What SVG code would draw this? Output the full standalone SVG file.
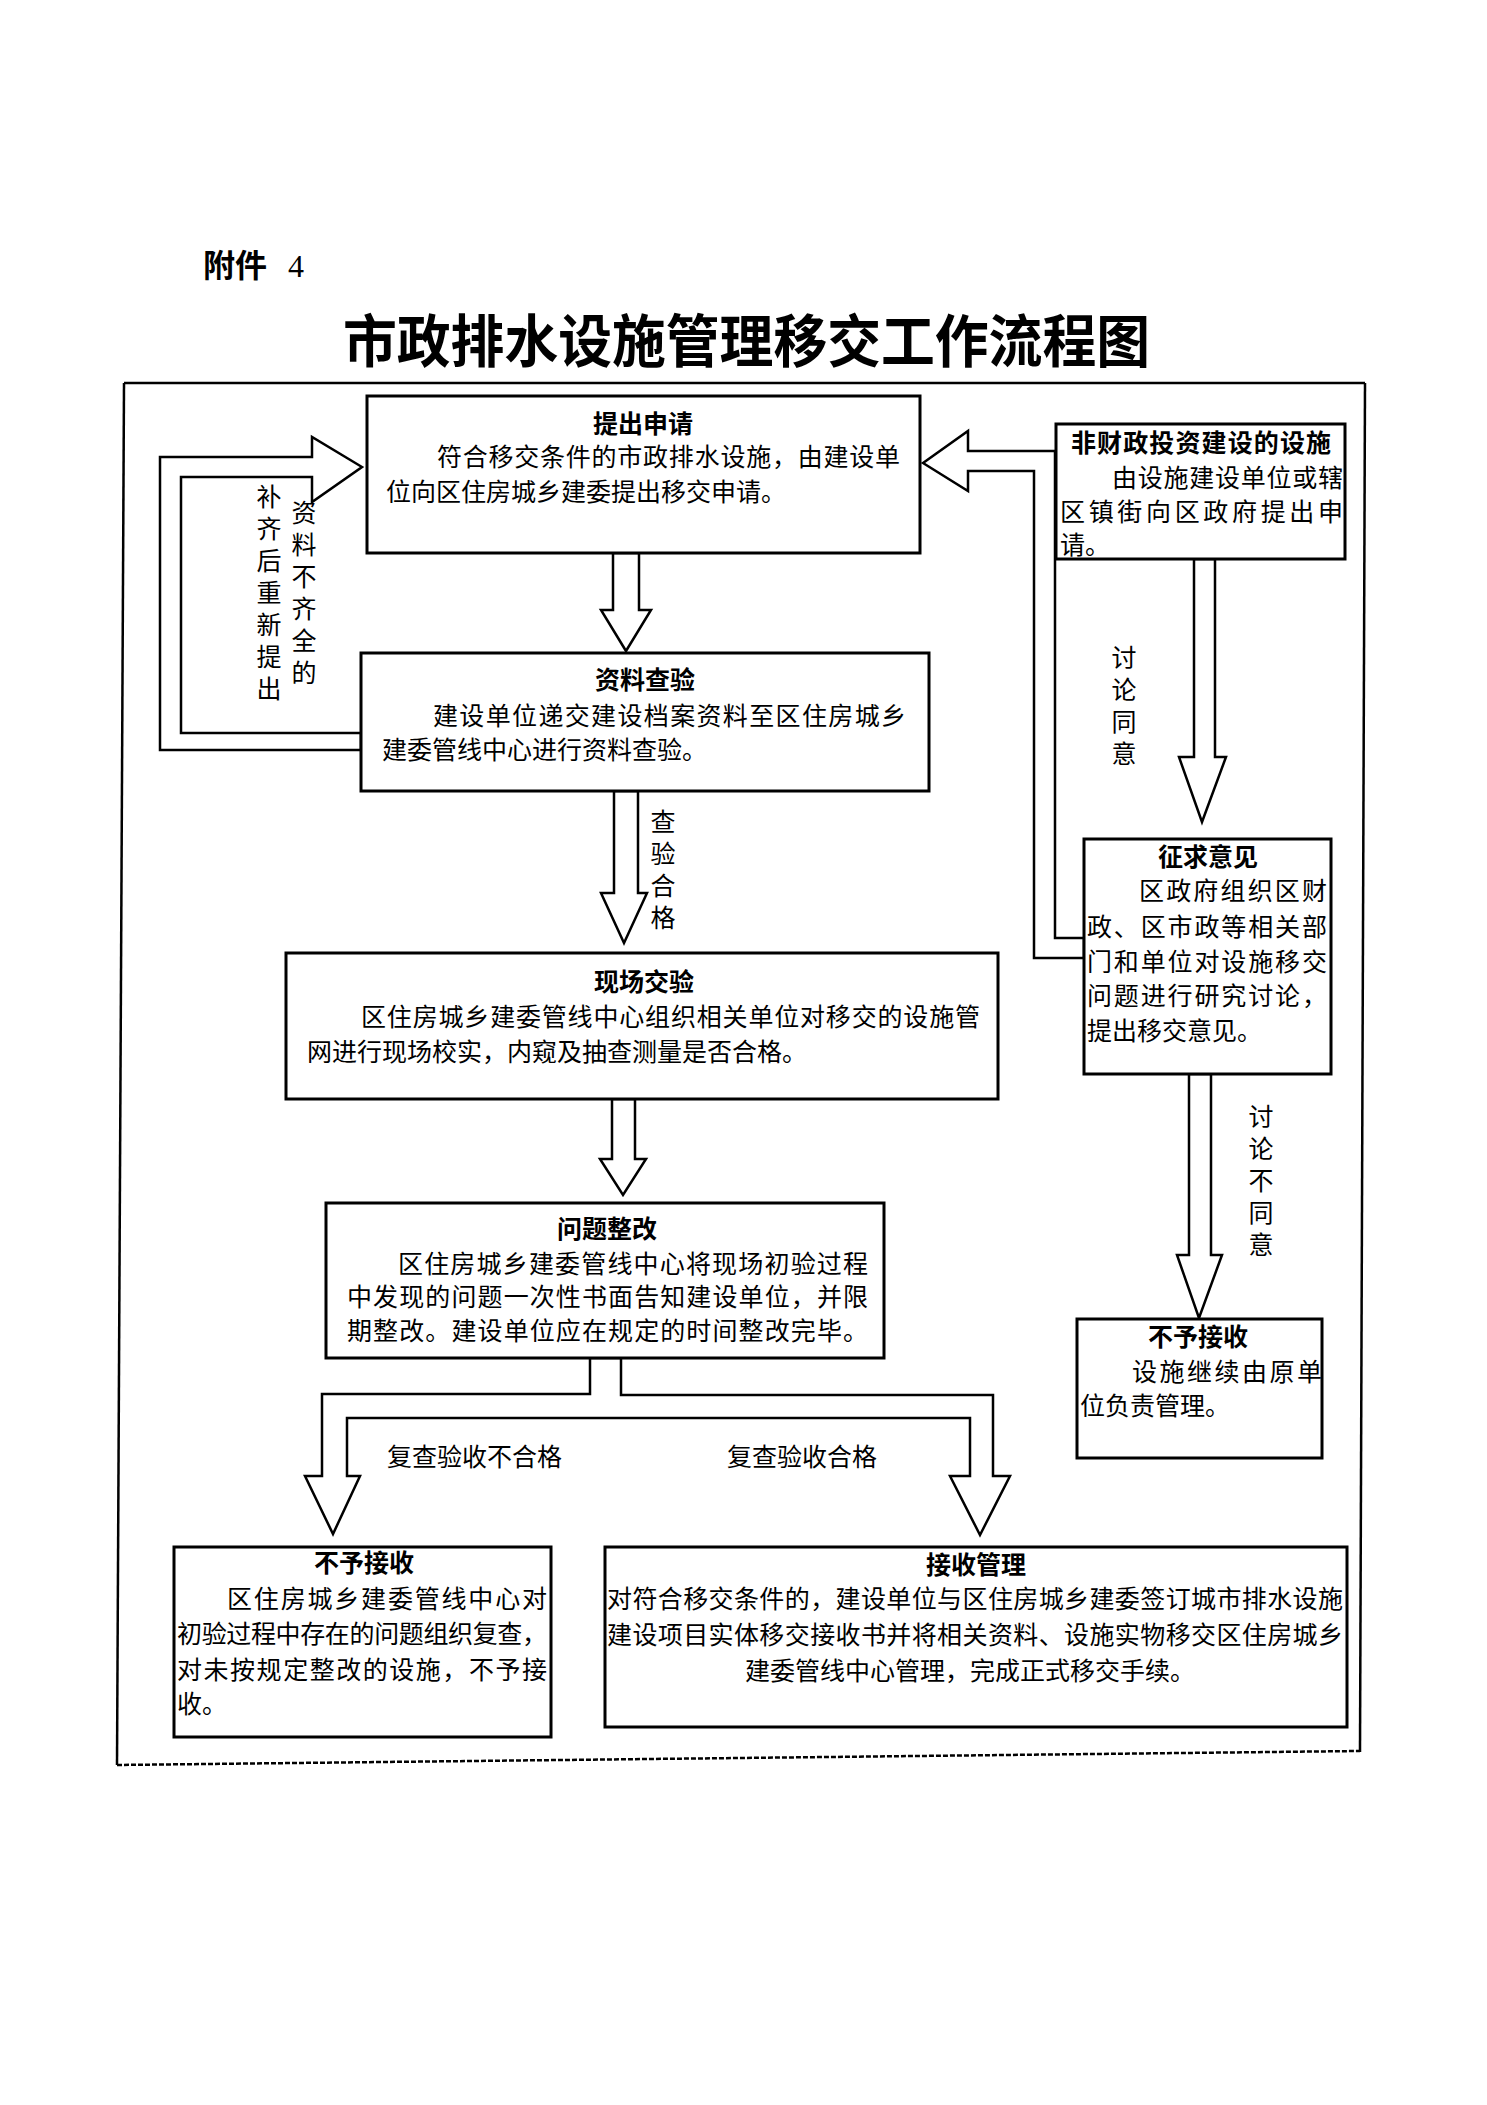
<svg xmlns="http://www.w3.org/2000/svg" width="1487" height="2105" viewBox="0 0 1487 2105">
<style>
  text { font-family: "Noto Sans CJK SC", "Noto Sans", sans-serif; fill: #000; }
  .t { font-size: 25px; font-weight: 700; text-anchor: middle; }
  .b { font-size: 25px; font-weight: 400; }
  .v { font-size: 25px; font-weight: 400; text-anchor: middle; }
  .box { fill: #fff; stroke: #000; stroke-width: 3; }
  .arr { fill: #fff; stroke: #000; stroke-width: 2.5; stroke-linejoin: miter; }
  .frame { fill: none; stroke: #000; stroke-width: 2.5; }
</style>
<rect x="0" y="0" width="1487" height="2105" fill="#fff"/>

<g id="header">
  <text x="203" y="277" style="font-size:32px;font-weight:700">附件<tspan x="288" style="font-family:'Liberation Serif',serif;font-weight:400">4</tspan></text>
  <text x="343" y="362" style="font-size:57px;font-weight:700" textLength="807" lengthAdjust="spacingAndGlyphs">市政排水设施管理移交工作流程图</text>
</g>

<g id="frame">
  <line class="frame" x1="124" y1="383" x2="1365" y2="383" stroke-width="3"/>
  <line class="frame" x1="124" y1="383" x2="117" y2="1765"/>
  <line class="frame" x1="1365" y1="383" x2="1360" y2="1752"/>
  <line class="frame" x1="117" y1="1765" x2="1360" y2="1751" stroke-width="5" stroke-dasharray="5 2"/>
</g>

<g id="connectors">
  <polygon class="arr" points="613,553 613,610 601,610 626,651 651,610 639,610 639,553"/>
  <polygon class="arr" points="614,791 614,893 601,893 624,943 647,893 638,893 638,791"/>
  <polygon class="arr" points="612,1099 612,1159 600,1159 623,1195 646,1159 635,1159 635,1099"/>
  <polygon class="arr" points="1194,559 1194,757 1179,757 1202,822 1226,757 1215,757 1215,559"/>
  <polygon class="arr" points="1189,1074 1189,1255 1177,1255 1199,1318 1222,1255 1211,1255 1211,1074"/>
  <polygon class="arr" points="590,1358 590,1394 322,1394 322,1476 305,1476 333,1534 360,1476 347,1476 347,1418 970,1418 970,1476 950,1476 980,1535 1010,1476 993,1476 993,1395 621,1395 621,1358"/>
  <polygon class="arr" points="361,733 181,733 181,477 312,477 312,502 362,467 312,437 312,457 160,457 160,750 361,750"/>
  <polygon class="arr" points="923,463 968,431 968,451 1055,451 1055,938 1084,938 1084,958 1034,958 1034,471 968,471 968,491"/>
  <text class="v"><tspan x="304" y="522">资</tspan><tspan x="304" y="554">料</tspan><tspan x="304" y="586">不</tspan><tspan x="304" y="618">齐</tspan><tspan x="304" y="650">全</tspan><tspan x="304" y="682">的</tspan></text>
  <text class="v"><tspan x="269" y="506">补</tspan><tspan x="269" y="538">齐</tspan><tspan x="269" y="570">后</tspan><tspan x="269" y="602">重</tspan><tspan x="269" y="634">新</tspan><tspan x="269" y="666">提</tspan><tspan x="269" y="698">出</tspan></text>
  <text class="v"><tspan x="663" y="831">查</tspan><tspan x="663" y="863">验</tspan><tspan x="663" y="895">合</tspan><tspan x="663" y="927">格</tspan></text>
  <text class="v"><tspan x="1124" y="667">讨</tspan><tspan x="1124" y="699">论</tspan><tspan x="1124" y="731">同</tspan><tspan x="1124" y="763">意</tspan></text>
  <text class="v"><tspan x="1261" y="1126">讨</tspan><tspan x="1261" y="1158">论</tspan><tspan x="1261" y="1190">不</tspan><tspan x="1261" y="1222">同</tspan><tspan x="1261" y="1254">意</tspan></text>
  <text class="b" x="387" y="1466">复查验收不合格</text>
  <text class="b" x="727" y="1466">复查验收合格</text>
</g>

<g id="node-tichu">
  <rect class="box" x="367" y="396" width="553" height="157"/>
  <text class="t" x="643" y="433">提出申请</text>
  <text class="b" x="437" y="466" textLength="463" lengthAdjust="spacing">符合移交条件的市政排水设施，由建设单</text>
  <text class="b" x="386" y="501">位向区住房城乡建委提出移交申请。</text>
</g>

<g id="node-ziliao">
  <rect class="box" x="361" y="653" width="568" height="138"/>
  <text class="t" x="645" y="689">资料查验</text>
  <text class="b" x="433" y="725" textLength="473" lengthAdjust="spacing">建设单位递交建设档案资料至区住房城乡</text>
  <text class="b" x="382" y="759">建委管线中心进行资料查验。</text>
</g>

<g id="node-xianchang">
  <rect class="box" x="286" y="953" width="712" height="146"/>
  <text class="t" x="644" y="991">现场交验</text>
  <text class="b" x="361" y="1026" textLength="619" lengthAdjust="spacing">区住房城乡建委管线中心组织相关单位对移交的设施管</text>
  <text class="b" x="307" y="1061">网进行现场校实，内窥及抽查测量是否合格。</text>
</g>

<g id="node-wenti">
  <rect class="box" x="326" y="1203" width="558" height="155"/>
  <text class="t" x="607" y="1238">问题整改</text>
  <text class="b" x="398" y="1273" textLength="470" lengthAdjust="spacing">区住房城乡建委管线中心将现场初验过程</text>
  <text class="b" x="347" y="1306" textLength="521" lengthAdjust="spacing">中发现的问题一次性书面告知建设单位，并限</text>
  <text class="b" x="347" y="1340" textLength="521" lengthAdjust="spacing">期整改。建设单位应在规定的时间整改完毕。</text>
</g>

<g id="node-buyu-left">
  <rect class="box" x="174" y="1547" width="377" height="190"/>
  <text class="t" x="364" y="1572">不予接收</text>
  <text class="b" x="227" y="1608" textLength="320" lengthAdjust="spacing">区住房城乡建委管线中心对</text>
  <text class="b" x="177" y="1643" textLength="370" lengthAdjust="spacing">初验过程中存在的问题组织复查，</text>
  <text class="b" x="177" y="1679" textLength="370" lengthAdjust="spacing">对未按规定整改的设施，不予接</text>
  <text class="b" x="177" y="1713">收。</text>
</g>

<g id="node-jieshou">
  <rect class="box" x="605" y="1547" width="742" height="180"/>
  <text class="t" x="976" y="1574">接收管理</text>
  <text class="b" x="607" y="1608" textLength="736" lengthAdjust="spacing">对符合移交条件的，建设单位与区住房城乡建委签订城市排水设施</text>
  <text class="b" x="607" y="1644" textLength="736" lengthAdjust="spacing">建设项目实体移交接收书并将相关资料、设施实物移交区住房城乡</text>
  <text class="b" x="970" y="1680" text-anchor="middle">建委管线中心管理，完成正式移交手续。</text>
</g>

<g id="node-feicaizheng">
  <rect class="box" x="1056" y="424" width="289" height="135"/>
  <text class="t" x="1201" y="452" textLength="260" lengthAdjust="spacing">非财政投资建设的设施</text>
  <text class="b" x="1112" y="487" textLength="231" lengthAdjust="spacing">由设施建设单位或辖</text>
  <text class="b" x="1060" y="521" textLength="283" lengthAdjust="spacing">区镇街向区政府提出申</text>
  <text class="b" x="1060" y="554">请。</text>
</g>

<g id="node-zhengqiu">
  <rect class="box" x="1084" y="839" width="247" height="235"/>
  <text class="t" x="1208" y="866">征求意见</text>
  <text class="b" x="1139" y="900" textLength="188" lengthAdjust="spacing">区政府组织区财</text>
  <text class="b" x="1087" y="936" textLength="240" lengthAdjust="spacing">政、区市政等相关部</text>
  <text class="b" x="1087" y="971" textLength="240" lengthAdjust="spacing">门和单位对设施移交</text>
  <text class="b" x="1087" y="1005" textLength="240" lengthAdjust="spacing">问题进行研究讨论，</text>
  <text class="b" x="1087" y="1040">提出移交意见。</text>
</g>

<g id="node-buyu-right">
  <rect class="box" x="1077" y="1319" width="245" height="139"/>
  <text class="t" x="1198" y="1346">不予接收</text>
  <text class="b" x="1132" y="1381" textLength="190" lengthAdjust="spacing">设施继续由原单</text>
  <text class="b" x="1080" y="1415">位负责管理。</text>
</g>
</svg>
